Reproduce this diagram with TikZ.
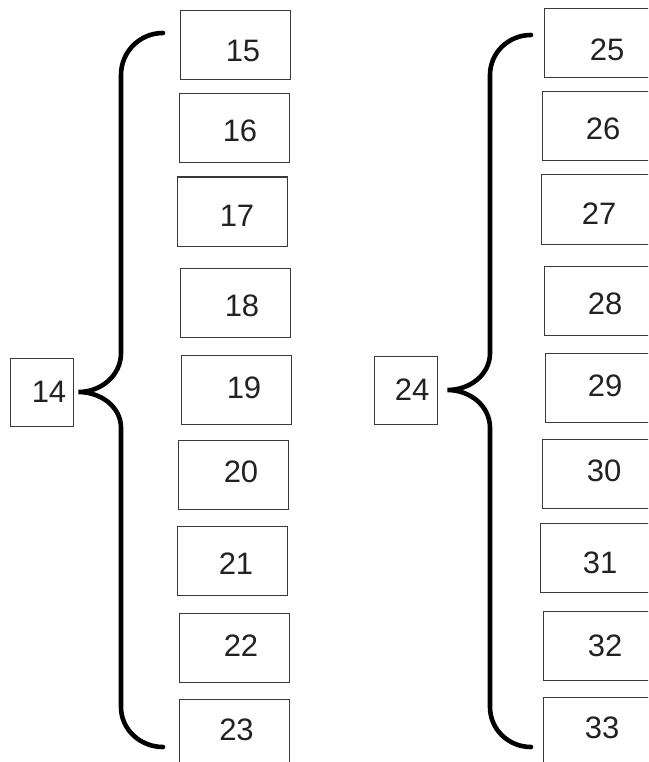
\documentclass[tikz,border=0pt]{standalone}
\usepackage{fontspec}
\setmainfont{Liberation Sans}
\definecolor{boxline}{HTML}{3A3A3A}
\definecolor{numtext}{HTML}{222222}
\begin{document}
\begin{tikzpicture}[x=1pt,y=-1pt,
  box/.style={draw=boxline, line width=1pt, minimum width=110pt, minimum height=69pt, inner sep=0pt, fill=white},
  sbox/.style={draw=boxline, line width=1pt, minimum width=63pt, minimum height=68pt, inner sep=0pt},
  lbl/.style={font=\fontsize{31}{31}\selectfont, text=numtext, inner sep=0pt},
  brace/.style={line width=4.6pt, line cap=round, draw=black}]
\useasboundingbox (0,0) rectangle (648,762);
\clip (0,0) rectangle (648,762);
\newcommand{\bx}[6]{\node[box, label={[lbl, xshift=#4pt, yshift=#5pt]center:#6}] (#1) at (#2,#3) {};}
% left column
\bx{n15}{235}{45.5}{8}{-5}{15}
\bx{n16}{234}{128.5}{6}{-2.5}{16}
\bx{n17}{232.5}{211.5}{4.5}{-4.5}{17}
\bx{n18}{235}{302.5}{7}{-3.5}{18}
\bx{n19}{236}{390}{8}{2}{19}
\bx{n20}{233}{475}{8}{3}{20}
\bx{n21}{232}{560.5}{4}{-3.5}{21}
\bx{n22}{234}{647.5}{7}{1.5}{22}
\bx{n23}{234}{733.5}{2.5}{3.5}{23}
% right column
\bx{n25}{599}{43.5}{8}{-6}{25}
\bx{n26}{597}{126.5}{6}{-2}{26}
\bx{n27}{596}{209.5}{3}{-4.5}{27}
\bx{n28}{599}{300.5}{6}{-3.5}{28}
\bx{n29}{600}{388}{5}{2}{29}
\bx{n30}{597}{473.5}{7}{2.5}{30}
\bx{n31}{595}{558}{5}{-5}{31}
\bx{n32}{598}{645.5}{7}{0}{32}
\bx{n33}{598}{731.5}{4}{3.5}{33}
% roots
\node[sbox, label={[lbl, xshift=7.5pt]center:14}] (n14) at (41.5,392) {};
\node[sbox, label={[lbl, xshift=6.5pt]center:24}] (n24) at (405.5,390) {};
% brace coordinates
\coordinate (lt) at (163,33);
\coordinate (lb) at (163,747);
\coordinate (ltip) at ([xshift=5pt]n14.east);
\coordinate (rt) at (531,35);
\coordinate (rb) at (531,747);
\coordinate (rtip) at ([xshift=10pt]n24.east);
% left brace
\draw[brace] (lt) to[out=180,in=90] (121,75) -- (121,353) to[out=-90,in=0] (ltip)
  to[out=0,in=90] (121,428) -- (121,707) to[out=-90,in=180] (lb);
% right brace
\draw[brace] (rt) to[out=180,in=90] (490,75) -- (490,353) to[out=-90,in=0] (rtip)
  to[out=0,in=90] (490,428) -- (490,707) to[out=-90,in=180] (rb);
\end{tikzpicture}
\end{document}
